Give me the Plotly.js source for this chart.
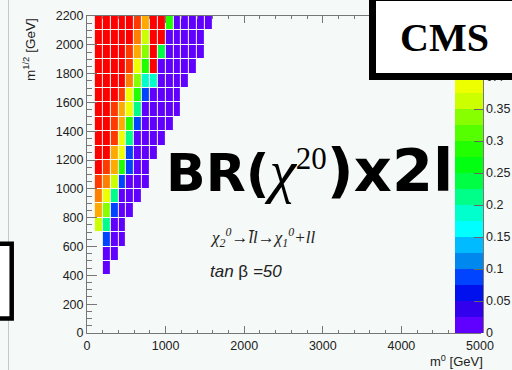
<!DOCTYPE html>
<html><head><meta charset="utf-8">
<script src="https://cdn.plot.ly/plotly-3.0.1.min.js"></script>
<style>html,body{margin:0;padding:0;background:#f5f9f7;}</style>
</head><body>
<div id="chart" style="width:512px;height:370px;"></div>
<script>
// bin centres
const m0Centers = [150,250,350,450,550,650,750,850,950,1050,1150,1250,1350,1450,1550];
const m12Centers = [450,550,650,750,850,950,1050,1150,1250,1350,1450,1550,1650,1750,1850,1950,2050,2150];

// BR(chi2 -> ...) x 2l per m1/2 row (from low to high m1/2), columns follow m0Centers
const row450  = [null,0.01,null,null,null,null,null,null,null,null,null,null,null,null,null];
const row550  = [null,0.01,0.01,null,null,null,null,null,null,null,null,null,null,null,null];
const row650  = [null,0.09,0.01,0.01,null,null,null,null,null,null,null,null,null,null,null];
const row750  = [0.36,0.21,0.01,0.01,null,null,null,null,null,null,null,null,null,null,null];
const row850  = [0.43,0.34,0.09,0.01,0.01,null,null,null,null,null,null,null,null,null,null];
const row950  = [0.45,0.39,0.21,0.01,0.01,0.01,null,null,null,null,null,null,null,null,null];
const row1050 = [0.47,0.45,0.36,0.09,0.01,0.01,0.01,null,null,null,null,null,null,null,null];
const row1150 = [0.49,0.47,0.43,0.29,0.09,0.01,0.01,null,null,null,null,null,null,null,null];
const row1250 = [0.49,0.49,0.43,0.39,0.09,0.01,0.01,0.01,null,null,null,null,null,null,null];
const row1350 = [0.49,0.49,0.47,0.39,0.21,0.01,0.01,0.01,0.01,null,null,null,null,null,null];
const row1450 = [0.49,0.49,0.47,0.43,0.29,0.09,0.01,0.01,0.01,0.01,null,null,null,null,null];
const row1550 = [0.49,0.49,0.47,0.43,0.39,0.21,0.01,0.01,0.01,0.01,0.01,null,null,null,null];
const row1650 = [0.49,0.49,0.49,0.47,0.39,0.29,0.09,0.01,0.01,0.01,0.01,null,null,null,null];
const row1750 = [0.49,0.49,0.49,0.49,0.45,0.34,0.19,0.19,0.01,0.01,0.01,0.01,null,null,null];
const row1850 = [0.49,0.49,0.49,0.49,0.47,0.39,0.29,0.49,0.01,0.01,0.01,0.01,0.01,null,null];
const row1950 = [0.49,0.49,0.49,0.49,0.47,0.43,0.34,0.49,0.24,0.01,0.01,0.01,0.01,0.01,null];
const row2050 = [0.49,0.49,0.49,0.49,0.49,0.45,0.36,0.49,0.49,0.01,0.01,0.01,0.01,0.01,null];
const row2150 = [0.49,0.49,0.49,0.49,0.49,0.47,0.43,0.49,0.49,0.29,0.01,0.01,0.01,0.01,0.01];

const xTickVals = [0,1000,2000,3000,4000,5000];
const xTickText = ['0','1000','2000','3000','4000','5000'];
const yTickVals = [0,200,400,600,800,1000,1200,1400,1600,1800,2000,2200];
const zTickVals = [0,0.05,0.1,0.15,0.2,0.25,0.3,0.35,0.4];
const zTickText = ['0','0.05','0.1','0.15','0.2','0.25','0.3','0.35','0.4'];

const paletteEdges = [0,0.025,0.05,0.075,0.1,0.125,0.15,0.175,0.2,0.225,0.25,0.275,0.3,0.325,0.35,0.375,0.4,0.42,0.44,0.46,0.48,0.5];
const paletteColors = ['#6000ff','#3300ee','#0011ee','#0044ff','#0088ee','#00bbff','#00ffff','#00ffcc','#00ff88','#00ff44','#00ff11','#22ff00','#55ff00','#88ff00','#ccff00','#eeff00','#ffcc00','#ffaa00','#ff7f00','#ff3a00','#ff0000'];

const zMax = 0.5;
const colorscale = [];
for (let i = 0; i < paletteColors.length; i++) {
  colorscale.push([paletteEdges[i]/zMax, paletteColors[i]]);
  colorscale.push([paletteEdges[i+1]/zMax, paletteColors[i]]);
}

const z = [row450,row550,row650,row750,row850,row950,row1050,row1150,row1250,row1350,row1450,row1550,row1650,row1750,row1850,row1950,row2050,row2150];

// pixel -> paper helpers (plot area: x 87..480, y 16..333)
const L = 87, R = 480, T = 16, B = 333;
const px = v => (v - L) / (R - L);
const py = v => (B - v) / (B - T);

const trace = {
  type: 'heatmap', x: m0Centers, y: m12Centers, z: z,
  zmin: 0, zmax: zMax, colorscale: colorscale,
  xgap: 1, ygap: 1, hoverinfo: 'skip',
  colorbar: {
    x: px(455), xanchor: 'left', xref: 'paper',
    y: 0, yanchor: 'bottom', yref: 'paper',
    thickness: 28, thicknessmode: 'pixels',
    len: 320, lenmode: 'pixels',
    xpad: 0, ypad: 0, outlinewidth: 0,
    tickmode: 'array', tickvals: zTickVals, ticktext: zTickText,
    ticks: 'inside', ticklen: 9, tickcolor: '#666', tickwidth: 1,
    tickfont: {family: 'Liberation Sans', size: 12.5, color: '#222'}
  }
};

const tickFont = {family: 'Liberation Sans', size: 12.5, color: '#222'};

const layout = {
  width: 512, height: 370,
  margin: {l: L, r: 512 - R, t: T, b: 370 - B, pad: 0, autoexpand: false},
  paper_bgcolor: '#f5f9f7', plot_bgcolor: '#f5f9f7',
  showlegend: false,
  xaxis: {
    range: [0, 5000], showgrid: false, zeroline: false, automargin: false,
    showline: true, linecolor: '#777', linewidth: 1, mirror: 'ticks',
    tickmode: 'array', tickvals: xTickVals, ticktext: xTickText,
    ticks: 'inside', ticklen: 7, tickcolor: '#777', ticklabelstandoff: 1,
    minor: {dtick: 200, tick0: 0, ticks: 'inside', ticklen: 3, tickcolor: '#777', showgrid: false},
    tickfont: tickFont
  },
  yaxis: {
    range: [0, 2200], showgrid: false, zeroline: false, automargin: false,
    showline: true, linecolor: '#777', linewidth: 1, mirror: 'ticks',
    tickmode: 'array', tickvals: yTickVals,
    ticks: 'inside', ticklen: 10, tickcolor: '#777',
    minor: {dtick: 50, tick0: 0, ticks: 'inside', ticklen: 5, tickcolor: '#777', showgrid: false},
    tickfont: tickFont
  },
  shapes: [
    {type: 'line', xref: 'paper', yref: 'paper', x0: px(8.5), x1: px(8.5), y0: py(-5), y1: py(375),
     line: {color: '#c8c8c8', width: 1}, layer: 'above'},
    {type: 'rect', xref: 'paper', yref: 'paper', x0: px(-20), x1: px(11.7), y0: py(318.5), y1: py(243.7),
     line: {color: '#000', width: 4.5}, fillcolor: '#fff', layer: 'above'},
    {type: 'line', xref: 'paper', yref: 'paper', x0: px(483.5), x1: px(483.5), y0: py(333), y1: py(76),
     line: {color: '#777', width: 1}, layer: 'above'}
  ],
  annotations: [
    {xref: 'paper', yref: 'paper', x: px(369), y: py(-6), xanchor: 'left', yanchor: 'top',
     text: '<b>CMS</b>', showarrow: false, width: 137, height: 72,
     font: {family: 'Liberation Serif', size: 40, color: '#000'},
     bgcolor: '#fff', bordercolor: '#000', borderwidth: 7, borderpad: 0},
    {xref: 'paper', yref: 'paper', x: px(164), y: py(170), xanchor: 'left', yanchor: 'middle',
     text: '<b>BR(</b><span style="font-family:Liberation Serif;font-weight:normal"><i style="font-size:60px">χ</i><sup><span style="font-size:31px">20</span></sup></span><b style="font-size:59px">)x2l</b>',
     showarrow: false, font: {family: 'DejaVu Sans', size: 52, color: '#000'}},
    {xref: 'paper', yref: 'paper', x: px(208), y: py(237), xanchor: 'left', yanchor: 'middle',
     text: '<i>χ<sub>2</sub><sup>0</sup>→l̄l→χ<sub>1</sub><sup>0</sup>+ll</i>',
     showarrow: false, font: {family: 'Liberation Serif', size: 17, color: '#222'}},
    {xref: 'paper', yref: 'paper', x: px(208), y: py(271), xanchor: 'left', yanchor: 'middle',
     text: '<i>tan</i> β <i>=50</i>',
     showarrow: false, font: {family: 'Liberation Sans', size: 17, color: '#222'}},
    {xref: 'paper', yref: 'paper', x: px(29), y: py(50), xanchor: 'center', yanchor: 'middle',
     text: 'm<sup>1/2</sup> [GeV]', textangle: -90,
     showarrow: false, font: {family: 'Liberation Sans', size: 13.5, color: '#222'}},
    {xref: 'paper', yref: 'paper', x: px(485), y: py(361), xanchor: 'right', yanchor: 'middle',
     text: 'm<sup>0</sup> [GeV]',
     showarrow: false, font: {family: 'Liberation Sans', size: 13, color: '#222'}}
  ]
};

Plotly.newPlot('chart', [trace], layout, {staticPlot: true, displayModeBar: false});
</script>
</body></html>
